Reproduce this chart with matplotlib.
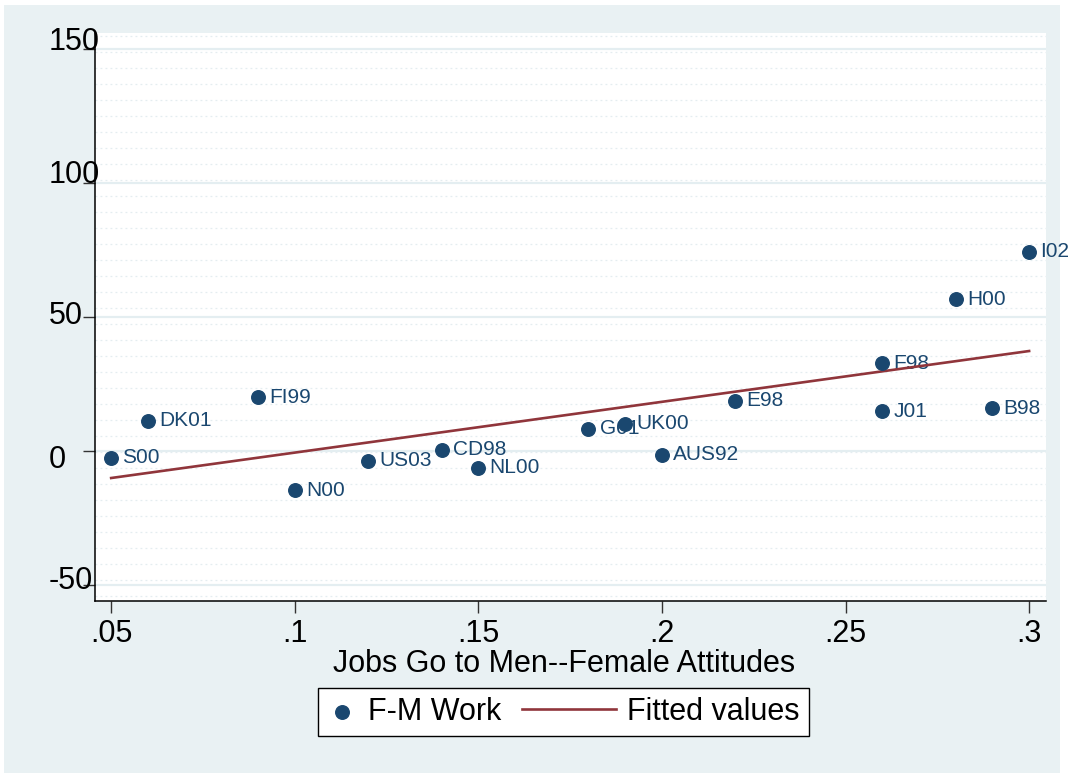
import matplotlib.pyplot as plt
import matplotlib.transforms as mtransforms
from matplotlib.patches import Rectangle
from matplotlib.legend_handler import HandlerLine2D
import numpy as np

plt.rcParams['font.family'] = ['Liberation Sans', 'DejaVu Sans']

countries = ["S00", "DK01", "FI99", "N00", "US03", "CD98", "NL00", "G01",
             "UK00", "AUS92", "E98", "F98", "J01", "B98", "H00", "I02"]
jobs_to_men = [0.05, 0.06, 0.09, 0.10, 0.12, 0.14, 0.15, 0.18,
               0.19, 0.20, 0.22, 0.26, 0.26, 0.29, 0.28, 0.30]
fm_work = [-2.6, 11.2, 20.1, -14.6, -3.7, 0.4, -6.3, 8.2,
           10.1, -1.5, 18.7, 32.8, 14.9, 16.0, 56.7, 74.3]

xticks = [0.05, 0.10, 0.15, 0.20, 0.25, 0.30]
xtick_labels = [".05", ".1", ".15", ".2", ".25", ".3"]
yticks = [-50, 0, 50, 100, 150]
ytick_labels = ["-50", "0", "50", "100", "150"]

navy = '#1a476f'
maroon = '#90353b'
bg = '#e9f1f3'


class WideLineHandler(HandlerLine2D):
    """Line key that reaches further left than its reserved handle box."""
    def __init__(self, extra, **kw):
        super().__init__(**kw)
        self.extra = extra

    def create_artists(self, legend, orig_handle, xdescent, ydescent,
                       width, height, fontsize, trans):
        arts = super().create_artists(legend, orig_handle, xdescent, ydescent,
                                      width, height, fontsize, trans)
        y0 = arts[0].get_ydata()[0]
        arts[0].set_data([-xdescent - self.extra, -xdescent + width], [y0, y0])
        return arts


W, H = 1070, 782
fig = plt.figure(figsize=(W / 100, H / 100), dpi=100, facecolor='white')
fig.patches.append(Rectangle((4 / W, 9 / H), 1056 / W, 768 / H,
                             transform=fig.transFigure, facecolor=bg,
                             edgecolor='none', zorder=-10))
ax = fig.add_axes([95 / W, 1 - 601 / H, (1046 - 95) / W, (601 - 33) / H])
ax.set_facecolor('white')

ax.set_xlim(0.0456, 0.3046)
ax.set_ylim(-56, 156)

# faint background texture rows and grid lines
for yy in np.arange(155, -56, -5.97):
    ax.axhline(yy, color='#e4edf0', lw=0.9, ls=(0, (1.5, 2.5)), zorder=0)
for yy in yticks:
    ax.axhline(yy, color='#e4eef1', lw=1.6, zorder=0.5)

# fitted line (OLS)
x = np.array(jobs_to_men)
y = np.array(fm_work)
slope, intercept = np.polyfit(x, y, 1)
xs = np.array([x.min(), x.max()])
fit_line, = ax.plot(xs, intercept + slope * xs, color=maroon, lw=1.9,
                    zorder=4, label='Fitted values')

pts = ax.scatter(x, y, s=95, color=navy, edgecolors=navy, zorder=5,
                 label='F-M Work')
for name, xi, yi in zip(countries, jobs_to_men, fm_work):
    ax.annotate(name, (xi, yi), xytext=(8, 0), textcoords='offset points',
                va='center', ha='left', fontsize=15, color=navy, zorder=3)

for side in ['top', 'right']:
    ax.spines[side].set_visible(False)
for side in ['left', 'bottom']:
    ax.spines[side].set_color('black')
    ax.spines[side].set_linewidth(1.1)

ax.set_xticks(xticks, xtick_labels, fontsize=22)
ax.set_yticks(yticks, ytick_labels, fontsize=22)
ax.tick_params(axis='x', length=8.6, width=1, color='#333333', pad=4)
ax.tick_params(axis='y', length=8.6, width=1, color='#333333', pad=24.5)
y_offsets_px = [7, -6, 5, 12, 11]
for lbl, off in zip(ax.get_yticklabels(), y_offsets_px):
    lbl.set_horizontalalignment('left')
    lbl.set_transform(lbl.get_transform() +
                      mtransforms.ScaledTranslation(0, off / 100, fig.dpi_scale_trans))

fig.text(564 / W, 1 - 672 / H, "Jobs Go to Men--Female Attitudes",
         ha='center', va='baseline', fontsize=22)

leg = ax.legend(handles=[pts, fit_line],
                handler_map={fit_line: WideLineHandler(extra=46)},
                loc='upper left', bbox_to_anchor=(318 / W, 1 - 688 / H),
                bbox_transform=fig.transFigure, ncol=2, fontsize=22,
                frameon=True, fancybox=False, edgecolor='black',
                framealpha=1, handlelength=1.0, handletextpad=0.35,
                columnspacing=2.75, borderpad=0.3, borderaxespad=0,
                scatterpoints=1)
leg.get_frame().set_linewidth(1.0)

fig.savefig('out.png', dpi=100, facecolor=fig.get_facecolor())
